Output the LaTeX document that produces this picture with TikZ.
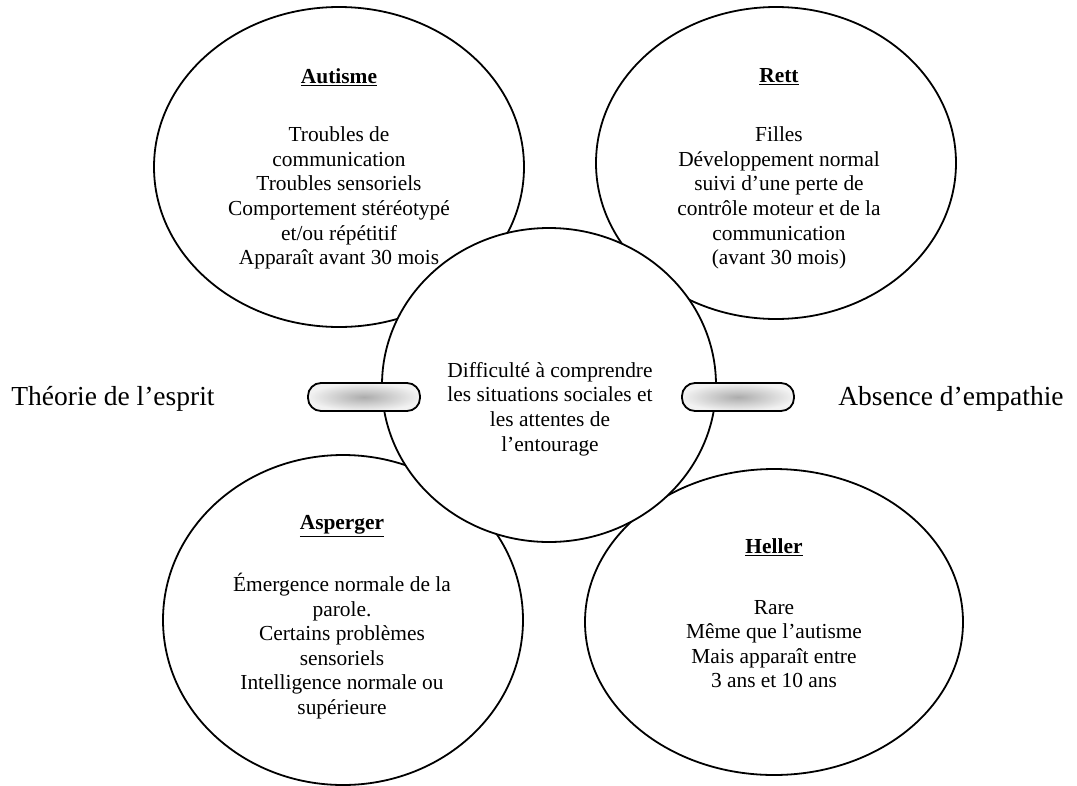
\documentclass[tikz,border=0pt]{standalone}
\usepackage{fontspec}
\setmainfont{Liberation Serif}
\usetikzlibrary{shapes.geometric}
\begin{document}
\begin{tikzpicture}[x=1pt,y=-1pt,
  blob/.style={draw=black,line width=1.8pt,fill=white,ellipse,inner sep=0pt},
  pill/.style={draw=black,line width=1.8pt,rounded corners=13pt,inner color=gray!65,outer color=gray!10},
  body/.style={align=center,font=\fontsize{21.4}{24.6}\selectfont,inner sep=0pt},
  ttl/.style={font=\fontsize{21.4}{24.6}\selectfont\bfseries,inner sep=0pt},
  side/.style={font=\fontsize{27.5}{30}\selectfont,inner sep=0pt}]
\useasboundingbox (0,0) rectangle (1077,785);
% outer ellipses
\node[blob,minimum width=370pt,minimum height=320pt] (aut) at (339,167) {};
\node[blob,minimum width=360pt,minimum height=312pt] (rett) at (776,163) {};
\node[blob,minimum width=360pt,minimum height=330pt] (asp) at (343,620) {};
\node[blob,minimum width=378pt,minimum height=306pt] (hel) at (774,622) {};
% centre
\node[blob,minimum width=334pt,minimum height=314pt] (ctr) at (549,385) {};
% pills
\node[pill,minimum width=112pt,minimum height=28pt] (lp) at (364,397) {};
\node[pill,minimum width=112pt,minimum height=28pt] (rp) at (738,397) {};
% texts
\node[ttl] (autT) at (339,77) {\underline{Autisme}};
\node[body] (autB) at (339,198) {Troubles de\\communication\\Troubles sensoriels\\Comportement stéréotypé\\et/ou répétitif\\Apparaît avant 30 mois};
\node[ttl] (rettT) at (779,77) {\underline{Rett}};
\node[body] (rettB) at (779,198) {Filles\\Développement normal\\suivi d’une perte de\\contrôle moteur et de la\\communication\\(avant 30 mois)};
\node[body] (ctrB) at (550,409) {Difficulté à comprendre\\les situations sociales et\\les attentes de\\l’entourage};
\node[ttl] (aspT) at (342,526) {\underline{Asperger}};
\node[body] (aspB) at (342,646) {Émergence normale de la\\parole.\\Certains problèmes\\sensoriels\\Intelligence normale ou\\supérieure};
\node[ttl] (helT) at (774,547) {\underline{Heller}};
\node[body] (helB) at (774,644) {Rare\\Même que l’autisme\\Mais apparaît entre\\3 ans et 10 ans};
\node[side] (th) at (113,399) {Théorie de l’esprit};
\node[side] (ab) at (951,399) {Absence d’empathie};
\end{tikzpicture}
\end{document}
